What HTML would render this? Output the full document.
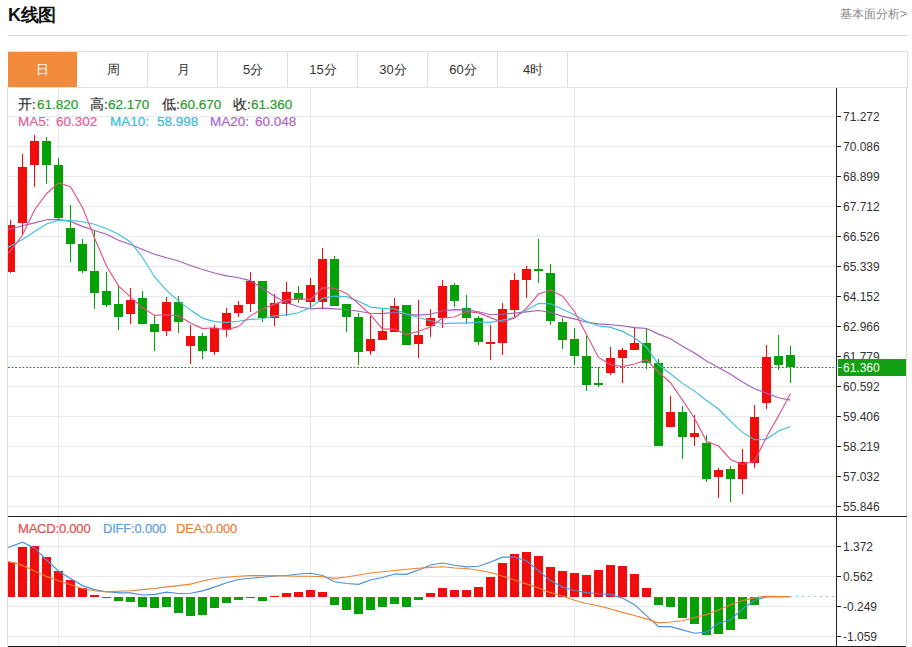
<!DOCTYPE html>
<html><head><meta charset="utf-8">
<style>
html,body{margin:0;padding:0;background:#fff;}
body{width:912px;height:647px;position:relative;overflow:hidden;font-family:"Liberation Sans",sans-serif;}
.t{position:absolute;white-space:nowrap;line-height:1;-webkit-text-stroke:0.2px currentColor;}
svg{position:absolute;left:0;top:0;}
.ax{font-family:"Liberation Sans",sans-serif;font-size:12px;fill:#333;}
.tab{position:absolute;top:52px;height:35px;width:70px;text-align:center;line-height:35px;font-size:13px;color:#333;}
</style></head><body>
<div class="t" style="left:8px;top:6px;font-size:18px;font-weight:bold;color:#111;-webkit-text-stroke:0;letter-spacing:-0.4px;">K线图</div>
<div class="t" style="right:5px;top:8px;font-size:12px;color:#888;-webkit-text-stroke:0;">基本面分析&gt;</div>
<div style="position:absolute;left:8px;top:35px;width:899px;height:1px;background:#d6d6d6;"></div>
<div style="position:absolute;left:8px;top:51px;width:898px;height:35px;border:1px solid #dedede;border-bottom:1px solid #e3e3e3;box-sizing:content-box;"></div>
<div style="position:absolute;left:7px;top:87px;width:1px;height:559px;background:#d8d8d8;"></div>
<div style="position:absolute;left:906px;top:87px;width:1px;height:559px;background:#d8d8d8;"></div>
<div style="position:absolute;left:8px;top:646px;width:898px;height:1px;background:#1a1a1a;"></div>
<div class="tab" style="left:8px;width:69px;background:#f28a3c;color:#fff;">日</div>
<div class="tab" style="left:78px;">周</div>
<div style="position:absolute;left:147px;top:52px;width:1px;height:35px;background:#e0e0e0;"></div>
<div class="tab" style="left:148px;">月</div>
<div style="position:absolute;left:217px;top:52px;width:1px;height:35px;background:#e0e0e0;"></div>
<div class="tab" style="left:218px;">5分</div>
<div style="position:absolute;left:287px;top:52px;width:1px;height:35px;background:#e0e0e0;"></div>
<div class="tab" style="left:288px;">15分</div>
<div style="position:absolute;left:357px;top:52px;width:1px;height:35px;background:#e0e0e0;"></div>
<div class="tab" style="left:358px;">30分</div>
<div style="position:absolute;left:427px;top:52px;width:1px;height:35px;background:#e0e0e0;"></div>
<div class="tab" style="left:428px;">60分</div>
<div style="position:absolute;left:497px;top:52px;width:1px;height:35px;background:#e0e0e0;"></div>
<div class="tab" style="left:498px;">4时</div>
<div style="position:absolute;left:567px;top:52px;width:1px;height:35px;background:#e0e0e0;"></div>
<svg width="912" height="647" viewBox="0 0 912 647" shape-rendering="crispEdges">
<defs><clipPath id="cm"><rect x="8" y="88" width="828" height="557"/></clipPath></defs>
<line x1="8" y1="116.5" x2="836" y2="116.5" stroke="#e6e9ee" />
<line x1="8" y1="146.5" x2="836" y2="146.5" stroke="#e6e9ee" />
<line x1="8" y1="176.5" x2="836" y2="176.5" stroke="#e6e9ee" />
<line x1="8" y1="206.5" x2="836" y2="206.5" stroke="#e6e9ee" />
<line x1="8" y1="236.5" x2="836" y2="236.5" stroke="#e6e9ee" />
<line x1="8" y1="266.5" x2="836" y2="266.5" stroke="#e6e9ee" />
<line x1="8" y1="296.5" x2="836" y2="296.5" stroke="#e6e9ee" />
<line x1="8" y1="326.5" x2="836" y2="326.5" stroke="#e6e9ee" />
<line x1="8" y1="356.5" x2="836" y2="356.5" stroke="#e6e9ee" />
<line x1="8" y1="386.5" x2="836" y2="386.5" stroke="#e6e9ee" />
<line x1="8" y1="416.5" x2="836" y2="416.5" stroke="#e6e9ee" />
<line x1="8" y1="446.5" x2="836" y2="446.5" stroke="#e6e9ee" />
<line x1="8" y1="476.5" x2="836" y2="476.5" stroke="#e6e9ee" />
<line x1="8" y1="506.5" x2="836" y2="506.5" stroke="#e6e9ee" />
<line x1="8" y1="546.5" x2="836" y2="546.5" stroke="#e6e9ee" />
<line x1="8" y1="576.5" x2="836" y2="576.5" stroke="#e6e9ee" />
<line x1="8" y1="606.5" x2="836" y2="606.5" stroke="#e6e9ee" />
<line x1="8" y1="636.5" x2="836" y2="636.5" stroke="#e6e9ee" />
<line x1="58.5" y1="88" x2="58.5" y2="645" stroke="#e6e9ee" />
<line x1="310.5" y1="88" x2="310.5" y2="645" stroke="#e6e9ee" />
<line x1="574.5" y1="88" x2="574.5" y2="645" stroke="#e6e9ee" />
<line x1="8" y1="367.5" x2="836" y2="367.5" stroke="#3a7a3a" stroke-dasharray="1.8,1.8" shape-rendering="geometricPrecision" />
<g clip-path="url(#cm)"><rect x="10.0" y="220.3" width="1" height="53.0" fill="#f20d0d"/><rect x="6.0" y="224.5" width="9" height="47.0" fill="#f20d0d"/><rect x="22.0" y="154.2" width="1" height="79.8" fill="#f20d0d"/><rect x="18.0" y="167.1" width="9" height="56.2" fill="#f20d0d"/><rect x="34.0" y="134.9" width="1" height="51.8" fill="#f20d0d"/><rect x="30.0" y="140.6" width="9" height="24.6" fill="#f20d0d"/><rect x="46.0" y="137.3" width="1" height="47.0" fill="#05a005"/><rect x="42.0" y="140.6" width="9" height="23.9" fill="#05a005"/><rect x="58.0" y="158.3" width="1" height="63.0" fill="#05a005"/><rect x="54.0" y="164.5" width="9" height="53.1" fill="#05a005"/><rect x="70.0" y="204.8" width="1" height="57.2" fill="#05a005"/><rect x="66.0" y="227.7" width="9" height="15.8" fill="#05a005"/><rect x="82.0" y="239.0" width="1" height="34.4" fill="#05a005"/><rect x="78.0" y="244.0" width="9" height="26.9" fill="#05a005"/><rect x="94.0" y="230.1" width="1" height="78.6" fill="#05a005"/><rect x="90.0" y="270.9" width="9" height="22.5" fill="#05a005"/><rect x="106.0" y="272.1" width="1" height="34.6" fill="#05a005"/><rect x="102.0" y="290.9" width="9" height="13.8" fill="#05a005"/><rect x="118.0" y="286.0" width="1" height="44.4" fill="#05a005"/><rect x="114.0" y="303.8" width="9" height="12.8" fill="#05a005"/><rect x="130.0" y="288.4" width="1" height="35.9" fill="#f20d0d"/><rect x="126.0" y="300.0" width="9" height="13.6" fill="#f20d0d"/><rect x="142.0" y="291.0" width="1" height="32.5" fill="#05a005"/><rect x="138.0" y="298.0" width="9" height="25.5" fill="#05a005"/><rect x="154.0" y="315.6" width="1" height="35.6" fill="#05a005"/><rect x="150.0" y="323.5" width="9" height="8.7" fill="#05a005"/><rect x="166.0" y="297.1" width="1" height="38.6" fill="#f20d0d"/><rect x="162.0" y="301.9" width="9" height="29.1" fill="#f20d0d"/><rect x="178.0" y="296.2" width="1" height="36.7" fill="#05a005"/><rect x="174.0" y="302.1" width="9" height="20.0" fill="#05a005"/><rect x="190.0" y="324.9" width="1" height="38.9" fill="#f20d0d"/><rect x="186.0" y="335.7" width="9" height="10.7" fill="#f20d0d"/><rect x="202.0" y="333.2" width="1" height="25.6" fill="#05a005"/><rect x="198.0" y="335.7" width="9" height="15.2" fill="#05a005"/><rect x="214.0" y="324.9" width="1" height="29.7" fill="#f20d0d"/><rect x="210.0" y="328.2" width="9" height="24.0" fill="#f20d0d"/><rect x="226.0" y="307.8" width="1" height="29.2" fill="#f20d0d"/><rect x="222.0" y="312.8" width="9" height="16.7" fill="#f20d0d"/><rect x="238.0" y="300.8" width="1" height="16.3" fill="#f20d0d"/><rect x="234.0" y="305.4" width="9" height="7.8" fill="#f20d0d"/><rect x="250.0" y="271.9" width="1" height="40.0" fill="#f20d0d"/><rect x="246.0" y="280.8" width="9" height="22.8" fill="#f20d0d"/><rect x="262.0" y="280.8" width="1" height="40.8" fill="#05a005"/><rect x="258.0" y="280.8" width="9" height="37.1" fill="#05a005"/><rect x="274.0" y="294.1" width="1" height="32.1" fill="#f20d0d"/><rect x="270.0" y="303.4" width="9" height="14.5" fill="#f20d0d"/><rect x="286.0" y="281.9" width="1" height="33.8" fill="#f20d0d"/><rect x="282.0" y="291.9" width="9" height="11.7" fill="#f20d0d"/><rect x="298.0" y="286.0" width="1" height="16.7" fill="#05a005"/><rect x="294.0" y="293.0" width="9" height="7.3" fill="#05a005"/><rect x="310.0" y="277.5" width="1" height="29.6" fill="#f20d0d"/><rect x="306.0" y="284.5" width="9" height="17.2" fill="#f20d0d"/><rect x="322.0" y="248.3" width="1" height="59.9" fill="#f20d0d"/><rect x="318.0" y="258.5" width="9" height="43.2" fill="#f20d0d"/><rect x="334.0" y="256.1" width="1" height="50.2" fill="#05a005"/><rect x="330.0" y="259.1" width="9" height="47.2" fill="#05a005"/><rect x="346.0" y="304.3" width="1" height="27.7" fill="#05a005"/><rect x="342.0" y="304.3" width="9" height="13.1" fill="#05a005"/><rect x="358.0" y="313.4" width="1" height="51.2" fill="#05a005"/><rect x="354.0" y="316.8" width="9" height="35.3" fill="#05a005"/><rect x="370.0" y="316.0" width="1" height="38.5" fill="#f20d0d"/><rect x="366.0" y="338.9" width="9" height="12.2" fill="#f20d0d"/><rect x="382.0" y="308.3" width="1" height="31.8" fill="#f20d0d"/><rect x="378.0" y="331.0" width="9" height="9.1" fill="#f20d0d"/><rect x="394.0" y="297.7" width="1" height="34.7" fill="#f20d0d"/><rect x="390.0" y="305.9" width="9" height="26.5" fill="#f20d0d"/><rect x="406.0" y="305.0" width="1" height="40.0" fill="#05a005"/><rect x="402.0" y="305.1" width="9" height="39.8" fill="#05a005"/><rect x="418.0" y="299.9" width="1" height="58.0" fill="#f20d0d"/><rect x="414.0" y="335.1" width="9" height="8.9" fill="#f20d0d"/><rect x="430.0" y="308.6" width="1" height="28.4" fill="#f20d0d"/><rect x="426.0" y="318.0" width="9" height="8.4" fill="#f20d0d"/><rect x="442.0" y="280.4" width="1" height="47.3" fill="#f20d0d"/><rect x="438.0" y="286.0" width="9" height="31.5" fill="#f20d0d"/><rect x="454.0" y="283.2" width="1" height="24.1" fill="#05a005"/><rect x="450.0" y="285.0" width="9" height="16.2" fill="#05a005"/><rect x="466.0" y="294.9" width="1" height="29.1" fill="#05a005"/><rect x="462.0" y="308.2" width="9" height="9.3" fill="#05a005"/><rect x="478.0" y="315.6" width="1" height="29.7" fill="#05a005"/><rect x="474.0" y="318.0" width="9" height="23.6" fill="#05a005"/><rect x="490.0" y="325.3" width="1" height="34.6" fill="#f20d0d"/><rect x="486.0" y="341.6" width="9" height="2.0" fill="#f20d0d"/><rect x="502.0" y="302.5" width="1" height="52.0" fill="#f20d0d"/><rect x="498.0" y="309.0" width="9" height="33.6" fill="#f20d0d"/><rect x="514.0" y="272.9" width="1" height="43.7" fill="#f20d0d"/><rect x="510.0" y="279.8" width="9" height="29.9" fill="#f20d0d"/><rect x="526.0" y="265.7" width="1" height="32.5" fill="#f20d0d"/><rect x="522.0" y="269.0" width="9" height="11.2" fill="#f20d0d"/><rect x="538.0" y="238.7" width="1" height="43.9" fill="#05a005"/><rect x="534.0" y="269.0" width="9" height="2.0" fill="#05a005"/><rect x="550.0" y="264.2" width="1" height="61.1" fill="#05a005"/><rect x="546.0" y="272.9" width="9" height="48.5" fill="#05a005"/><rect x="562.0" y="318.3" width="1" height="30.8" fill="#05a005"/><rect x="558.0" y="321.6" width="9" height="18.4" fill="#05a005"/><rect x="574.0" y="328.2" width="1" height="36.8" fill="#05a005"/><rect x="570.0" y="339.1" width="9" height="17.1" fill="#05a005"/><rect x="586.0" y="336.4" width="1" height="54.1" fill="#05a005"/><rect x="582.0" y="356.2" width="9" height="28.4" fill="#05a005"/><rect x="598.0" y="366.5" width="1" height="20.1" fill="#05a005"/><rect x="594.0" y="382.8" width="9" height="2.0" fill="#05a005"/><rect x="610.0" y="347.2" width="1" height="27.4" fill="#f20d0d"/><rect x="606.0" y="358.0" width="9" height="14.7" fill="#f20d0d"/><rect x="622.0" y="348.0" width="1" height="34.8" fill="#f20d0d"/><rect x="618.0" y="349.5" width="9" height="8.5" fill="#f20d0d"/><rect x="634.0" y="327.5" width="1" height="22.3" fill="#f20d0d"/><rect x="630.0" y="343.0" width="9" height="6.8" fill="#f20d0d"/><rect x="646.0" y="328.6" width="1" height="40.2" fill="#05a005"/><rect x="642.0" y="342.9" width="9" height="20.2" fill="#05a005"/><rect x="658.0" y="358.6" width="1" height="87.7" fill="#05a005"/><rect x="654.0" y="363.1" width="9" height="83.2" fill="#05a005"/><rect x="670.0" y="396.2" width="1" height="30.9" fill="#f20d0d"/><rect x="666.0" y="411.8" width="9" height="15.3" fill="#f20d0d"/><rect x="682.0" y="405.6" width="1" height="53.6" fill="#05a005"/><rect x="678.0" y="411.8" width="9" height="25.2" fill="#05a005"/><rect x="694.0" y="415.0" width="1" height="31.3" fill="#f20d0d"/><rect x="690.0" y="432.6" width="9" height="4.2" fill="#f20d0d"/><rect x="706.0" y="435.2" width="1" height="47.0" fill="#05a005"/><rect x="702.0" y="442.6" width="9" height="35.9" fill="#05a005"/><rect x="718.0" y="468.1" width="1" height="30.1" fill="#f20d0d"/><rect x="714.0" y="470.3" width="9" height="6.2" fill="#f20d0d"/><rect x="730.0" y="465.6" width="1" height="36.3" fill="#05a005"/><rect x="726.0" y="468.6" width="9" height="10.4" fill="#05a005"/><rect x="742.0" y="449.4" width="1" height="44.3" fill="#f20d0d"/><rect x="738.0" y="462.3" width="9" height="16.4" fill="#f20d0d"/><rect x="754.0" y="405.1" width="1" height="62.5" fill="#f20d0d"/><rect x="750.0" y="416.5" width="9" height="46.1" fill="#f20d0d"/><rect x="766.0" y="345.2" width="1" height="64.2" fill="#f20d0d"/><rect x="762.0" y="356.5" width="9" height="46.5" fill="#f20d0d"/><rect x="778.0" y="334.9" width="1" height="35.2" fill="#05a005"/><rect x="774.0" y="355.9" width="9" height="9.2" fill="#05a005"/><rect x="790.0" y="345.7" width="1" height="37.5" fill="#05a005"/><rect x="786.0" y="354.8" width="9" height="12.5" fill="#05a005"/>
<polyline points="-1.5,232.0 10.5,229.0 22.5,225.7 34.5,222.9 46.5,219.8 58.5,219.4 70.5,221.5 82.5,226.4 94.5,230.5 106.5,234.3 118.5,240.3 130.5,244.5 142.5,249.5 154.5,254.2 166.5,257.7 178.5,261.0 190.5,265.5 202.5,269.5 214.5,273.0 226.5,275.9 238.5,277.8 250.5,280.6 262.5,288.2 274.5,296.3 286.5,302.7 298.5,306.8 310.5,308.9 322.5,308.2 334.5,308.9 346.5,309.5 358.5,311.3 370.5,313.2 382.5,313.6 394.5,312.3 406.5,314.4 418.5,315.1 430.5,314.2 442.5,311.0 454.5,309.6 466.5,309.9 478.5,311.7 490.5,314.7 502.5,314.3 514.5,313.1 526.5,311.9 538.5,310.5 550.5,312.3 562.5,316.4 574.5,318.9 586.5,322.2 598.5,323.9 610.5,324.8 622.5,325.8 634.5,327.6 646.5,328.5 658.5,334.1 670.5,338.8 682.5,346.3 694.5,352.9 706.5,360.9 718.5,367.4 730.5,374.2 742.5,381.9 754.5,388.7 766.5,393.1 778.5,397.8 790.5,400.1" fill="none" stroke="#a65cb8" stroke-width="1.15" shape-rendering="geometricPrecision"/>
<polyline points="-1.5,252.0 10.5,246.0 22.5,239.6 34.5,231.5 46.5,224.0 58.5,220.3 70.5,220.4 82.5,221.8 94.5,224.3 106.5,228.5 118.5,234.3 130.5,241.9 142.5,257.5 154.5,276.7 166.5,290.4 178.5,300.9 190.5,310.1 202.5,318.1 214.5,321.6 226.5,322.4 238.5,321.3 250.5,319.4 262.5,318.8 274.5,315.9 286.5,314.9 298.5,312.7 310.5,307.6 322.5,298.4 334.5,296.2 346.5,296.6 358.5,301.3 370.5,307.1 382.5,308.4 394.5,308.7 406.5,314.0 418.5,317.5 430.5,320.8 442.5,323.6 454.5,323.1 466.5,323.1 478.5,322.0 490.5,322.3 502.5,320.1 514.5,317.5 526.5,309.9 538.5,303.5 550.5,303.8 562.5,309.2 574.5,314.7 586.5,321.4 598.5,325.7 610.5,327.4 622.5,331.4 634.5,337.8 646.5,347.2 658.5,364.7 670.5,373.7 682.5,383.4 694.5,391.1 706.5,400.5 718.5,409.0 730.5,421.1 742.5,432.4 754.5,439.7 766.5,439.1 778.5,431.0 790.5,426.5" fill="none" stroke="#40bedd" stroke-width="1.15" shape-rendering="geometricPrecision"/>
<polyline points="-1.5,262.0 10.5,251.0 22.5,235.0 34.5,210.0 46.5,193.7 58.5,182.9 70.5,186.7 82.5,207.4 94.5,238.0 106.5,266.0 118.5,285.8 130.5,297.1 142.5,307.6 154.5,315.4 166.5,314.8 178.5,315.9 190.5,323.1 202.5,328.6 214.5,327.8 226.5,329.9 238.5,326.6 250.5,315.6 262.5,309.0 274.5,304.1 286.5,299.9 298.5,298.9 310.5,299.6 322.5,287.7 334.5,288.3 346.5,293.4 358.5,303.8 370.5,314.6 382.5,329.1 394.5,329.1 406.5,334.6 418.5,331.2 430.5,327.0 442.5,318.0 454.5,317.0 466.5,311.6 478.5,312.9 490.5,317.6 502.5,322.2 514.5,317.9 526.5,308.2 538.5,294.1 550.5,290.0 562.5,296.2 574.5,311.5 586.5,334.6 598.5,357.4 610.5,364.7 622.5,366.6 634.5,364.0 646.5,359.7 658.5,372.0 670.5,382.7 682.5,400.2 694.5,418.2 706.5,441.2 718.5,446.0 730.5,459.5 742.5,464.5 754.5,461.3 766.5,436.9 778.5,415.9 790.5,393.5" fill="none" stroke="#e0528a" stroke-width="1.15" shape-rendering="geometricPrecision"/>
</g>
<g clip-path="url(#cm)"><rect x="6.0" y="561.7" width="9" height="34.9" fill="#f20d0d"/><rect x="18.0" y="547.2" width="9" height="49.4" fill="#f20d0d"/><rect x="30.0" y="546.1" width="9" height="50.5" fill="#f20d0d"/><rect x="42.0" y="556.7" width="9" height="39.9" fill="#f20d0d"/><rect x="54.0" y="570.9" width="9" height="25.7" fill="#f20d0d"/><rect x="66.0" y="579.9" width="9" height="16.7" fill="#f20d0d"/><rect x="78.0" y="588.2" width="9" height="8.4" fill="#f20d0d"/><rect x="90.0" y="594.8" width="9" height="1.8" fill="#f20d0d"/><rect x="102.0" y="596.6" width="9" height="1.7" fill="#05a005"/><rect x="114.0" y="596.6" width="9" height="4.4" fill="#05a005"/><rect x="126.0" y="596.6" width="9" height="5.0" fill="#05a005"/><rect x="138.0" y="596.6" width="9" height="10.5" fill="#05a005"/><rect x="150.0" y="596.6" width="9" height="11.6" fill="#05a005"/><rect x="162.0" y="596.6" width="9" height="10.5" fill="#05a005"/><rect x="174.0" y="596.6" width="9" height="16.4" fill="#05a005"/><rect x="186.0" y="596.6" width="9" height="19.2" fill="#05a005"/><rect x="198.0" y="596.6" width="9" height="18.4" fill="#05a005"/><rect x="210.0" y="596.6" width="9" height="11.4" fill="#05a005"/><rect x="222.0" y="596.6" width="9" height="6.6" fill="#05a005"/><rect x="234.0" y="596.6" width="9" height="3.0" fill="#05a005"/><rect x="246.0" y="596.6" width="9" height="1.0" fill="#05a005"/><rect x="258.0" y="596.6" width="9" height="4.1" fill="#05a005"/><rect x="270.0" y="595.9" width="9" height="1.0" fill="#f20d0d"/><rect x="282.0" y="592.6" width="9" height="4.0" fill="#f20d0d"/><rect x="294.0" y="592.2" width="9" height="4.4" fill="#f20d0d"/><rect x="306.0" y="590.4" width="9" height="6.2" fill="#f20d0d"/><rect x="318.0" y="592.2" width="9" height="4.4" fill="#f20d0d"/><rect x="330.0" y="596.6" width="9" height="8.1" fill="#05a005"/><rect x="342.0" y="596.6" width="9" height="13.1" fill="#05a005"/><rect x="354.0" y="596.6" width="9" height="17.5" fill="#05a005"/><rect x="366.0" y="596.6" width="9" height="13.6" fill="#05a005"/><rect x="378.0" y="596.6" width="9" height="10.3" fill="#05a005"/><rect x="390.0" y="596.6" width="9" height="7.4" fill="#05a005"/><rect x="402.0" y="596.6" width="9" height="10.3" fill="#05a005"/><rect x="414.0" y="596.6" width="9" height="3.7" fill="#05a005"/><rect x="426.0" y="593.1" width="9" height="3.5" fill="#f20d0d"/><rect x="438.0" y="587.8" width="9" height="8.8" fill="#f20d0d"/><rect x="450.0" y="590.0" width="9" height="6.6" fill="#f20d0d"/><rect x="462.0" y="590.4" width="9" height="6.2" fill="#f20d0d"/><rect x="474.0" y="587.1" width="9" height="9.5" fill="#f20d0d"/><rect x="486.0" y="577.3" width="9" height="19.3" fill="#f20d0d"/><rect x="498.0" y="563.0" width="9" height="33.6" fill="#f20d0d"/><rect x="510.0" y="553.8" width="9" height="42.8" fill="#f20d0d"/><rect x="522.0" y="552.1" width="9" height="44.5" fill="#f20d0d"/><rect x="534.0" y="556.0" width="9" height="40.6" fill="#f20d0d"/><rect x="546.0" y="566.8" width="9" height="29.8" fill="#f20d0d"/><rect x="558.0" y="570.7" width="9" height="25.9" fill="#f20d0d"/><rect x="570.0" y="573.3" width="9" height="23.3" fill="#f20d0d"/><rect x="582.0" y="574.6" width="9" height="22.0" fill="#f20d0d"/><rect x="594.0" y="570.0" width="9" height="26.6" fill="#f20d0d"/><rect x="606.0" y="565.0" width="9" height="31.6" fill="#f20d0d"/><rect x="618.0" y="566.3" width="9" height="30.3" fill="#f20d0d"/><rect x="630.0" y="573.6" width="9" height="23.0" fill="#f20d0d"/><rect x="642.0" y="587.8" width="9" height="8.8" fill="#f20d0d"/><rect x="654.0" y="596.6" width="9" height="8.8" fill="#05a005"/><rect x="666.0" y="596.6" width="9" height="10.3" fill="#05a005"/><rect x="678.0" y="596.6" width="9" height="21.3" fill="#05a005"/><rect x="690.0" y="596.6" width="9" height="27.8" fill="#05a005"/><rect x="702.0" y="596.6" width="9" height="38.1" fill="#05a005"/><rect x="714.0" y="596.6" width="9" height="37.3" fill="#05a005"/><rect x="726.0" y="596.6" width="9" height="33.3" fill="#05a005"/><rect x="738.0" y="596.6" width="9" height="22.4" fill="#05a005"/><rect x="750.0" y="596.6" width="9" height="8.1" fill="#05a005"/><rect x="762.0" y="595.5" width="9" height="1.1" fill="#f20d0d"/>
<polyline points="-1.5,549.0 10.5,546.8 22.5,542.2 34.5,547.9 46.5,560.0 58.5,571.0 70.5,578.6 82.5,585.6 94.5,589.6 106.5,591.8 118.5,592.9 130.5,592.9 142.5,595.0 154.5,594.4 166.5,592.2 178.5,593.5 190.5,593.3 202.5,590.9 214.5,587.1 226.5,582.8 238.5,579.5 250.5,578.2 262.5,577.3 274.5,576.0 286.5,575.5 298.5,574.0 310.5,573.3 322.5,575.5 334.5,581.7 346.5,583.5 358.5,584.3 370.5,580.0 382.5,577.5 394.5,574.0 406.5,574.4 418.5,570.0 430.5,565.0 442.5,563.0 454.5,565.2 466.5,566.8 478.5,566.3 490.5,562.0 502.5,557.1 514.5,557.1 526.5,560.8 538.5,570.7 550.5,580.6 562.5,587.1 574.5,590.5 586.5,592.6 598.5,593.7 610.5,594.4 622.5,598.1 634.5,604.7 646.5,615.7 658.5,626.6 670.5,626.6 682.5,629.9 694.5,633.2 706.5,632.1 718.5,623.3 730.5,619.8 742.5,609.0 754.5,600.5 766.5,596.9 778.5,596.6 790.5,596.6" fill="none" stroke="#4a90d9" stroke-width="1.15" shape-rendering="geometricPrecision"/>
<polyline points="-1.5,560.0 10.5,562.1 22.5,565.4 34.5,570.9 46.5,576.4 58.5,580.8 70.5,584.7 82.5,588.5 94.5,590.7 106.5,591.8 118.5,591.3 130.5,590.7 142.5,589.6 154.5,588.5 166.5,586.9 178.5,585.6 190.5,584.1 202.5,581.0 214.5,578.5 226.5,577.2 238.5,576.2 250.5,575.6 262.5,575.5 274.5,575.7 286.5,576.0 298.5,576.2 310.5,576.2 322.5,576.8 334.5,578.4 346.5,577.0 358.5,575.0 370.5,573.0 382.5,571.8 394.5,570.5 406.5,569.2 418.5,568.2 430.5,567.4 442.5,566.8 454.5,568.0 466.5,568.5 478.5,570.3 490.5,572.5 502.5,576.2 514.5,580.0 526.5,583.9 538.5,588.0 550.5,592.6 562.5,596.0 574.5,600.3 586.5,603.5 598.5,605.8 610.5,609.0 622.5,612.4 634.5,615.5 646.5,618.9 658.5,622.9 670.5,622.0 682.5,620.7 694.5,617.5 706.5,614.6 718.5,610.0 730.5,604.7 742.5,600.5 754.5,597.9 766.5,596.3 778.5,596.6 790.5,596.6" fill="none" stroke="#f08030" stroke-width="1.15" shape-rendering="geometricPrecision"/>
</g>
<line x1="790" y1="596.5" x2="836" y2="596.5" stroke="#a8c8e0" stroke-dasharray="2,4" />
<line x1="836.5" y1="88" x2="836.5" y2="646" stroke="#222" />
<line x1="8" y1="516.5" x2="907" y2="516.5" stroke="#222" />
<line x1="836" y1="116.5" x2="841" y2="116.5" stroke="#222" />
<text x="843" y="121.0" class="ax">71.272</text>
<line x1="836" y1="146.5" x2="841" y2="146.5" stroke="#222" />
<text x="843" y="151.0" class="ax">70.086</text>
<line x1="836" y1="176.5" x2="841" y2="176.5" stroke="#222" />
<text x="843" y="181.0" class="ax">68.899</text>
<line x1="836" y1="206.5" x2="841" y2="206.5" stroke="#222" />
<text x="843" y="211.0" class="ax">67.712</text>
<line x1="836" y1="236.5" x2="841" y2="236.5" stroke="#222" />
<text x="843" y="241.0" class="ax">66.526</text>
<line x1="836" y1="266.5" x2="841" y2="266.5" stroke="#222" />
<text x="843" y="271.0" class="ax">65.339</text>
<line x1="836" y1="296.5" x2="841" y2="296.5" stroke="#222" />
<text x="843" y="301.0" class="ax">64.152</text>
<line x1="836" y1="326.5" x2="841" y2="326.5" stroke="#222" />
<text x="843" y="331.0" class="ax">62.966</text>
<line x1="836" y1="356.5" x2="841" y2="356.5" stroke="#222" />
<text x="843" y="361.0" class="ax">61.779</text>
<line x1="836" y1="386.5" x2="841" y2="386.5" stroke="#222" />
<text x="843" y="391.0" class="ax">60.592</text>
<line x1="836" y1="416.5" x2="841" y2="416.5" stroke="#222" />
<text x="843" y="421.0" class="ax">59.406</text>
<line x1="836" y1="446.5" x2="841" y2="446.5" stroke="#222" />
<text x="843" y="451.0" class="ax">58.219</text>
<line x1="836" y1="476.5" x2="841" y2="476.5" stroke="#222" />
<text x="843" y="481.0" class="ax">57.032</text>
<line x1="836" y1="506.5" x2="841" y2="506.5" stroke="#222" />
<text x="843" y="511.0" class="ax">55.846</text>
<line x1="836" y1="546.5" x2="841" y2="546.5" stroke="#222" />
<text x="843" y="551.0" class="ax">1.372</text>
<line x1="836" y1="576.5" x2="841" y2="576.5" stroke="#222" />
<text x="843" y="581.0" class="ax">0.562</text>
<line x1="836" y1="606.5" x2="841" y2="606.5" stroke="#222" />
<text x="843" y="611.0" class="ax">-0.249</text>
<line x1="836" y1="636.5" x2="841" y2="636.5" stroke="#222" />
<text x="843" y="641.0" class="ax">-1.059</text>
<rect x="838" y="359" width="68" height="17" fill="#14a014"/>
<text x="843" y="372" class="ax" fill="#fff" style="fill:#fff">61.360</text>
<line x1="838" y1="367.5" x2="842" y2="367.5" stroke="#fff" />
</svg>

<div class="t" style="left:18px;top:98px;font-size:13.5px;color:#333;">开:</div><div class="t" style="left:37px;top:98px;font-size:13.5px;color:#2c9a2c;">61.820</div>
<div class="t" style="left:90px;top:98px;font-size:13.5px;color:#333;">高:</div><div class="t" style="left:108px;top:98px;font-size:13.5px;color:#2c9a2c;">62.170</div>
<div class="t" style="left:162px;top:98px;font-size:13.5px;color:#333;">低:</div><div class="t" style="left:180px;top:98px;font-size:13.5px;color:#2c9a2c;">60.670</div>
<div class="t" style="left:233px;top:98px;font-size:13.5px;color:#333;">收:</div><div class="t" style="left:251px;top:98px;font-size:13.5px;color:#2c9a2c;">61.360</div>
<div class="t" style="left:18px;top:115px;font-size:13.5px;color:#e0609a;">MA5:</div><div class="t" style="left:56px;top:115px;font-size:13.5px;color:#e0609a;">60.302</div>
<div class="t" style="left:110px;top:115px;font-size:13.5px;color:#3cbad8;">MA10:</div><div class="t" style="left:157px;top:115px;font-size:13.5px;color:#3cbad8;">58.998</div>
<div class="t" style="left:210px;top:115px;font-size:13.5px;color:#b064c4;">MA20:</div><div class="t" style="left:255px;top:115px;font-size:13.5px;color:#b064c4;">60.048</div>
<div class="t" style="left:18px;top:522px;font-size:13px;letter-spacing:-0.2px;color:#e0504a;">MACD:0.000</div>
<div class="t" style="left:103px;top:522px;font-size:13px;letter-spacing:-0.2px;color:#5a9ee0;">DIFF:0.000</div>
<div class="t" style="left:176px;top:522px;font-size:13px;letter-spacing:-0.2px;color:#e8803a;">DEA:0.000</div>

</body></html>
